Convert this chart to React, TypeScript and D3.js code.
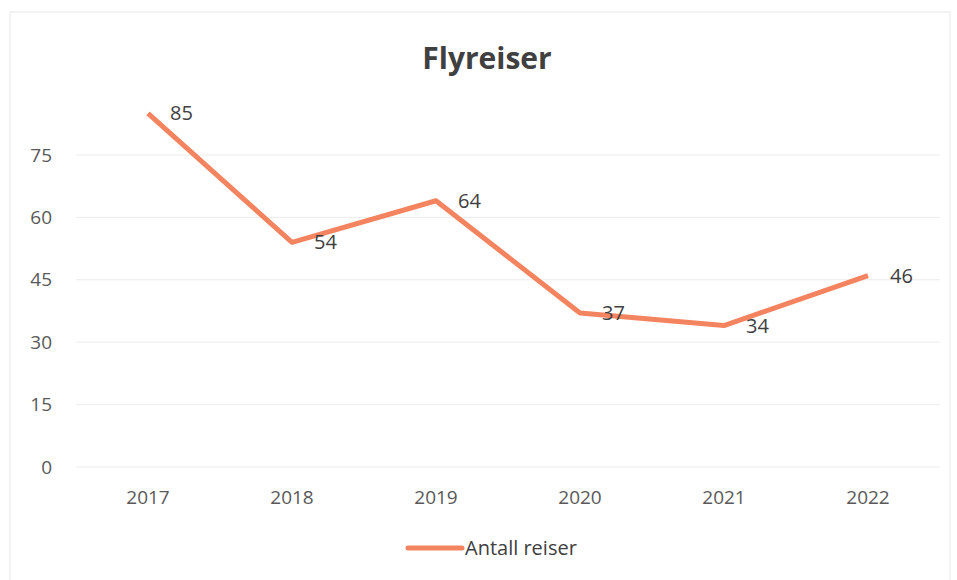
import React from 'react';
import * as d3 from 'd3';

const years = ['2017', '2018', '2019', '2020', '2021', '2022'];
const trips = [85, 54, 64, 37, 34, 46];
const yTicks = [0, 15, 30, 45, 60, 75];

const WIDTH = 957;
const HEIGHT = 580;
const FONT = '"Open Sans", Calibri, sans-serif';

const App = () => {
  const xScale = d3.scaleBand<string>()
    .domain(years)
    .range([76, 940]);
  const yScale = d3.scaleLinear()
    .domain([0, 75])
    .range([467, 155]);

  const cx = (d: string) => (xScale(d) as number) + xScale.bandwidth() / 2;

  const line = d3.line<number>()
    .x((_, i) => cx(years[i]))
    .y(d => yScale(d));

  return (
    <svg
      width={WIDTH}
      height={HEIGHT}
      style={{ position: 'absolute', left: 0, top: 0, background: '#fff' }}
    >
      <rect x={10} y={12} width={940} height={575} fill="none" stroke="#e8e8e8" />
      <text
        x={487}
        y={69}
        textAnchor="middle"
        fontFamily={FONT}
        fontSize={30}
        fontWeight="bold"
        fill="#404040"
      >
        Flyreiser
      </text>
      <g>
        {yTicks.map(t => (
          <g key={t}>
            <line
              x1={76}
              x2={940}
              y1={yScale(t)}
              y2={yScale(t)}
              stroke="#ececec"
              strokeWidth={1}
            />
            <text
              x={52}
              y={yScale(t)}
              dy="0.35em"
              textAnchor="end"
              fontFamily={FONT}
              fontSize={19}
              fill="#595959"
            >
              {t}
            </text>
          </g>
        ))}
      </g>
      <g>
        {years.map(y => (
          <text
            key={y}
            x={cx(y)}
            y={504}
            textAnchor="middle"
            fontFamily={FONT}
            fontSize={19}
            fill="#595959"
          >
            {y}
          </text>
        ))}
      </g>
      <path
        d={line(trips) as string}
        fill="none"
        stroke="#f4845f"
        strokeWidth={5}
        strokeLinejoin="round"
      />
      <g>
        {trips.map((v, i) => (
          <text
            key={i}
            x={cx(years[i]) + 22}
            y={yScale(v)}
            dy="0.35em"
            fontFamily={FONT}
            fontSize={20}
            fill="#404040"
          >
            {v}
          </text>
        ))}
      </g>
      <g>
        <line x1={408} x2={462} y1={548} y2={548} stroke="#f4845f" strokeWidth={5} strokeLinecap="round" />
        <text x={465} y={548} dy="0.35em" fontFamily={FONT} fontSize={20} fill="#404040">
          Antall reiser
        </text>
      </g>
    </svg>
  );
};

export default App;
